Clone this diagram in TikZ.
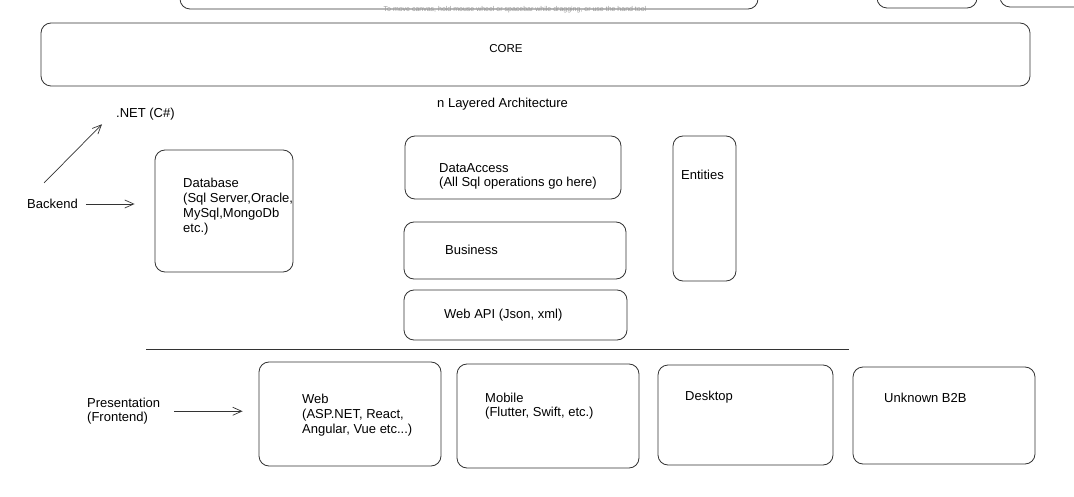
\documentclass[tikz,border=0pt]{standalone}
\usepackage{fontspec}
\setmainfont{Liberation Sans}
\usetikzlibrary{arrows.meta}
\begin{document}
\begin{tikzpicture}[x=1pt,y=-1pt,
	>={Straight Barb[length=9pt,width=8pt]},
	every node/.style={font=\fontsize{13}{15}\selectfont},
	box/.style={draw=black!80,line width=0.8pt,rounded corners=10pt,inner sep=0pt},
	txt/.style={inner sep=0pt,align=left},
	arrowstyle/.style={draw=black!80,line width=0.7pt,->}]
	
	\useasboundingbox[fill=white] (0,0) rectangle (1074,497);
	\clip (0,0) rectangle (1074,497);
	
	% cut off boxes at the top
	\draw[box] (180,-40) rectangle (758,9);
	\draw[box] (877,-40) rectangle (977,8);
	\draw[box] (1000,-40) rectangle (1110,7);
	\node[txt,text=black!40,font=\fontsize{7}{8}\selectfont] (hint) at (515,10) {To move canvas, hold mouse wheel or spacebar while dragging, or use the hand tool};
	
	% core
	\node[box,minimum width=989pt,minimum height=63pt] (core) at (535.5,54.5) {};
	\node[txt,font=\fontsize{11.5}{13}\selectfont] (coretxt) at (506,49) {CORE};
	\node[txt,anchor=west] (title) at (437,104) {n Layered Architecture};
	
	% backend
	\node[txt,anchor=west] (net) at (116,114) {.NET (C\#)};
	\node[txt,anchor=west] (backend) at (27,204) {Backend};
	\coordinate (netfrom) at (44,183);
	
	\node[box,minimum width=138pt,minimum height=122pt] (db) at (224,211) {};
	\node[txt,anchor=north west] (dbtxt) at (183,178) {Database\\(Sql Server,Oracle,\\MySql,MongoDb\\etc.)};
	
	\node[box,minimum width=216pt,minimum height=63pt] (dal) at (513,167.5) {};
	\node[txt,anchor=north west,font=\fontsize{13}{14}\selectfont] (daltxt) at (439,163) {DataAccess\\(All Sql operations go here)};
	\node[box,minimum width=222pt,minimum height=57pt] (bus) at (515,250.5) {};
	\node[txt,anchor=west] (bustxt) at (445,250) {Business};
	\node[box,minimum width=223pt,minimum height=50pt] (api) at (515.5,315) {};
	\node[txt,anchor=west] (apitxt) at (444,315) {Web API (Json, xml)};
	\node[box,minimum width=63pt,minimum height=145pt] (ent) at (704.5,208.5) {};
	\node[txt,anchor=west] (enttxt) at (681,175) {Entities};
	
	\draw[arrowstyle] (netfrom) -- ([shift={(-14pt,-4pt)}]net.south west);
	\draw[arrowstyle,shorten <=8pt,shorten >=20pt] (backend.east) -- (backend.east -| db.west);
	
	\draw[draw=black!80,line width=0.8pt] (146,349) -- (849,349);
	
	% frontend
	\node[txt,anchor=north west,font=\fontsize{13}{14}\selectfont] (pres) at (87,398) {Presentation\\(Frontend)};
	\node[box,minimum width=182pt,minimum height=104pt] (web) at (350,414) {};
	\node[txt,anchor=north west] (webtxt) at (302,394) {Web\\(ASP.NET, React,\\Angular, Vue etc...)};
	\node[box,minimum width=182pt,minimum height=104pt] (mob) at (548,416) {};
	\node[txt,anchor=north west,font=\fontsize{13}{14}\selectfont] (mobtxt) at (485,393) {Mobile\\(Flutter, Swift, etc.)};
	\node[box,minimum width=175pt,minimum height=100pt] (desk) at (745.5,415) {};
	\node[txt,anchor=west] (desktxt) at (685,397) {Desktop};
	\node[box,minimum width=182pt,minimum height=97pt] (btob) at (944,415.5) {};
	\node[txt,anchor=west] (btobtxt) at (884,398) {Unknown B2B};
	
	\draw[arrowstyle,shorten <=14pt,shorten >=16pt] (pres.east) -- (pres.east -| web.west);
\end{tikzpicture}
\end{document}
